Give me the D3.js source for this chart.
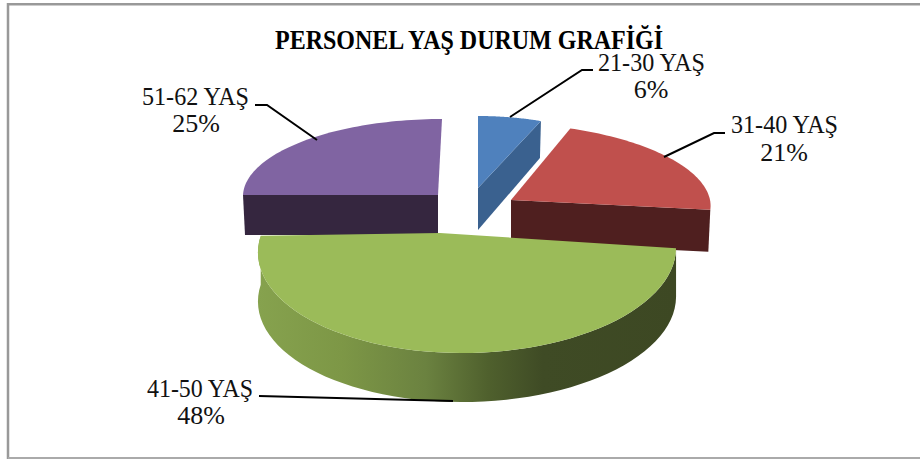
<!DOCTYPE html>
<html><head><meta charset="utf-8">
<script src="https://cdn.jsdelivr.net/npm/d3@7"></script>
<style>html,body{margin:0;padding:0;background:#fff}svg{display:block}</style>
</head><body><div id="chart"></div>
<script>
const categories = ["21-30 YAŞ","31-40 YAŞ","41-50 YAŞ","51-62 YAŞ"];
const values = [6,21,48,25];
const percentLabels = ["6%","21%","48%","25%"];
const titleText = "PERSONEL YAŞ DURUM GRAFİĞİ";

// view geometry per slice: rim ellipse, apex, rim sweep in screen degrees, wall depths
const views = [
 {ax:478,ay:188,cx:478,cy:188,rx:171,ry:72,sx:0,d:37,dA:42,ex:-1,top:"#4F81BD",wall:"#3A618F"},
 {ax:511,ay:200,cx:511,cy:200,rx:199,ry:77,sx:-15,d:42,dA:42,ex:-2,top:"#C0504D",wall:"#4F1F1F"},
 {ax:440,ay:233,cx:467,cy:250,rx:209,ry:103,sx:5,d:49,dA:49,ex:0,sweep:[89,278],top:"#9BBB59",wall:"url(#gs)"},
 {ax:438,ay:195,cx:438,cy:195,rx:195,ry:76,sx:4,d:40,dA:40,ex:2,top:"#8064A2",wall:"#35263F"}
];
const labelPos = [
 {x:651.5,y:71,w:107,px:651,py:98,line:[[510,117],[582,70],[593,70]]},
 {x:784.5,y:133,w:107,px:784,py:161,line:[[664,157],[714,133],[725,133]]},
 {x:200,y:397,w:106,px:201,py:424,line:[[453,401],[259,396]]},
 {x:195.5,y:105,w:107,px:196,py:132,line:[[317,140],[267,105],[255,105]]}
];
const W=920,H=459;
const svg=d3.select("#chart").append("svg").attr("width",W).attr("height",H);
const defs=svg.append("defs");
const g=defs.append("linearGradient").attr("id","gs").attr("gradientUnits","userSpaceOnUse")
 .attr("x1",258).attr("x2",677).attr("y1",0).attr("y2",0);
[[0,"#86A24E"],[.2,"#7D9746"],[.4,"#6B8240"],[.55,"#4F602D"],[.68,"#3F4B25"],[1,"#3D4823"]]
 .forEach(s=>g.append("stop").attr("offset",s[0]).attr("stop-color",s[1]));

svg.append("path").attr("d",`M8,${H}V4.2H${W}`).attr("fill","none").attr("stroke","#999").attr("stroke-width",2.5);
svg.append("path").attr("d",`M8,458H${W}`).attr("fill","none").attr("stroke","#aaa").attr("stroke-width",2);

const arcs=d3.pie().sort(null).startAngle(0).endAngle(2*Math.PI)(values);
const rad=Math.PI/180;
const pt=(v,a)=>{const s=Math.sin(a),c=Math.cos(a);
 return [v.cx+v.rx*s+v.sx*c, v.cy-v.ry*c];};
const line=d3.line();
const rimOf=(v,d)=>{
 const phi=v.sweep?d3.scaleLinear().domain([d.startAngle,d.endAngle]).range(v.sweep.map(x=>x*rad)):(x=>x);
 return d3.range(0,61).map(i=>pt(v,phi(d.startAngle+(d.endAngle-d.startAngle)*i/60)));
};
const apex=v=>[v.ax,v.ay];

[3,0,1,2].forEach(i=>{
 const v=views[i],rim=rimOf(v,arcs[i]);
 let wall;
 if(v.sweep){ // curved outer wall
  wall=rim.concat(rim.slice().reverse().map(p=>[p[0],p[1]+v.d]));
 } else { // flat radial wall: start edge for the last slice, end edge otherwise
  const e=i===3?rim[0]:rim[rim.length-1];
  wall=[apex(v),e,[e[0]+v.ex,e[1]+v.d],[v.ax,v.ay+v.dA]];
 }
 svg.append("path").attr("d",line(wall)+"Z").attr("fill",v.wall);
 svg.append("path").attr("d",line([apex(v),...rim])+"Z").attr("fill",v.top);
});

svg.append("text").attr("x",469).attr("y",49).attr("text-anchor","middle")
 .attr("font-family","Liberation Serif").attr("font-weight","bold").attr("font-size",27)
 .attr("textLength",388).attr("lengthAdjust","spacingAndGlyphs").text(titleText);

categories.forEach((c,i)=>{
 const l=labelPos[i];
 svg.append("path").attr("d",line(l.line)).attr("fill","none").attr("stroke","#000").attr("stroke-width",2);
 svg.append("text").attr("x",l.x).attr("y",l.y).attr("text-anchor","middle")
  .attr("font-family","Liberation Serif").attr("font-size",24.5).attr("fill","#111")
  .attr("textLength",l.w).attr("lengthAdjust","spacingAndGlyphs").text(c);
 svg.append("text").attr("x",l.px).attr("y",l.py).attr("text-anchor","middle")
  .attr("font-family","Liberation Serif").attr("font-size",26).attr("fill","#111").text(percentLabels[i]);
});
</script></body></html>
